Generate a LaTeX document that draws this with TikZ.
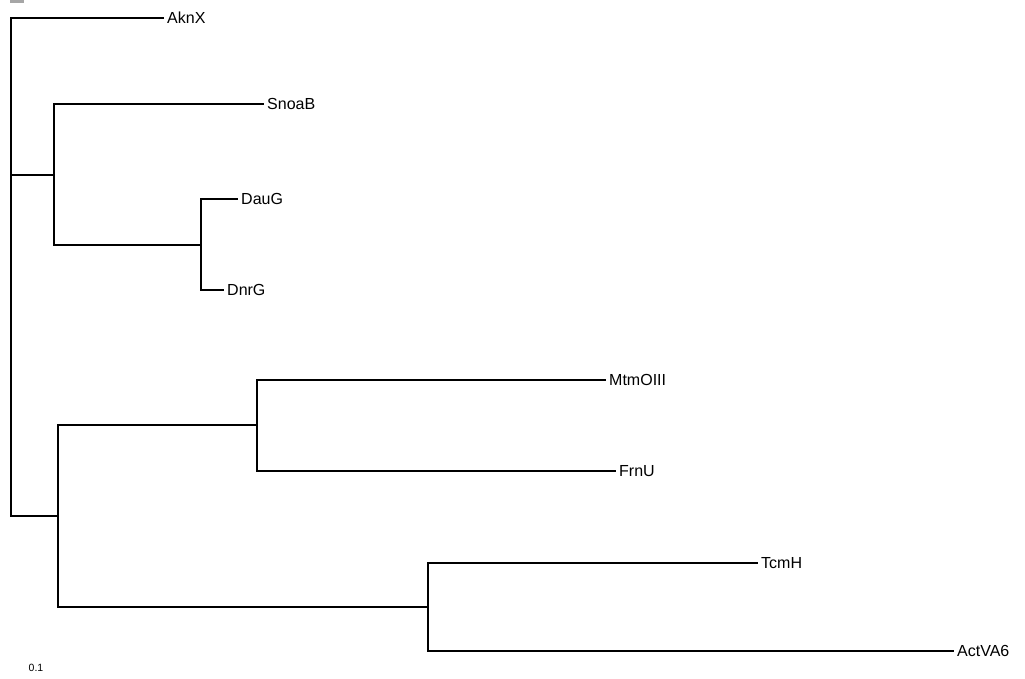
\documentclass[tikz,border=0pt]{standalone}
\usepackage{fontspec}
\setmainfont{Liberation Sans}
\begin{document}
\begin{tikzpicture}[x=1pt,y=-1pt,
  branch/.style={line width=2.3pt,line cap=rect},
  leaf/.style={anchor=west,inner xsep=4pt,inner ysep=0pt,font=\fontsize{16}{18}\selectfont},
  scaletext/.style={font=\fontsize{10.5}{12}\selectfont,inner sep=0pt}]
\useasboundingbox (0,0) rectangle (1025,679);
\fill[gray!70] (10,0) rectangle (24,3);
% leaves
\node[leaf] (aknx) at (163,18) {AknX};
\node[leaf] (snoab) at (263,104) {SnoaB};
\node[leaf] (daug) at (237,199) {DauG};
\node[leaf] (dnrg) at (223,290) {DnrG};
\node[leaf] (mtm) at (605,380) {MtmOIII};
\node[leaf] (frnu) at (615,471) {FrnU};
\node[leaf] (tcmh) at (757,563) {TcmH};
\node[leaf] (actva) at (953,651) {ActVA6};
% internal nodes
\coordinate (r) at (11,175);
\coordinate (a) at (54,175);
\coordinate (d) at (201,245);
\coordinate (b) at (58,516);
\coordinate (m) at (257,425);
\coordinate (t) at (428,607);
\draw[branch] (r) |- (aknx.west);
\draw[branch] (r) |- (b);
\draw[branch] (r) -- (a);
\draw[branch] (a) |- (snoab.west);
\draw[branch] (a) |- (d);
\draw[branch] (d) |- (daug.west);
\draw[branch] (d) |- (dnrg.west);
\draw[branch] (b) |- (m);
\draw[branch] (b) |- (t);
\draw[branch] (m) |- (mtm.west);
\draw[branch] (m) |- (frnu.west);
\draw[branch] (t) |- (tcmh.west);
\draw[branch] (t) |- (actva.west);
\node[scaletext] (scale) at (36,668) {0.1};
\end{tikzpicture}
\end{document}
